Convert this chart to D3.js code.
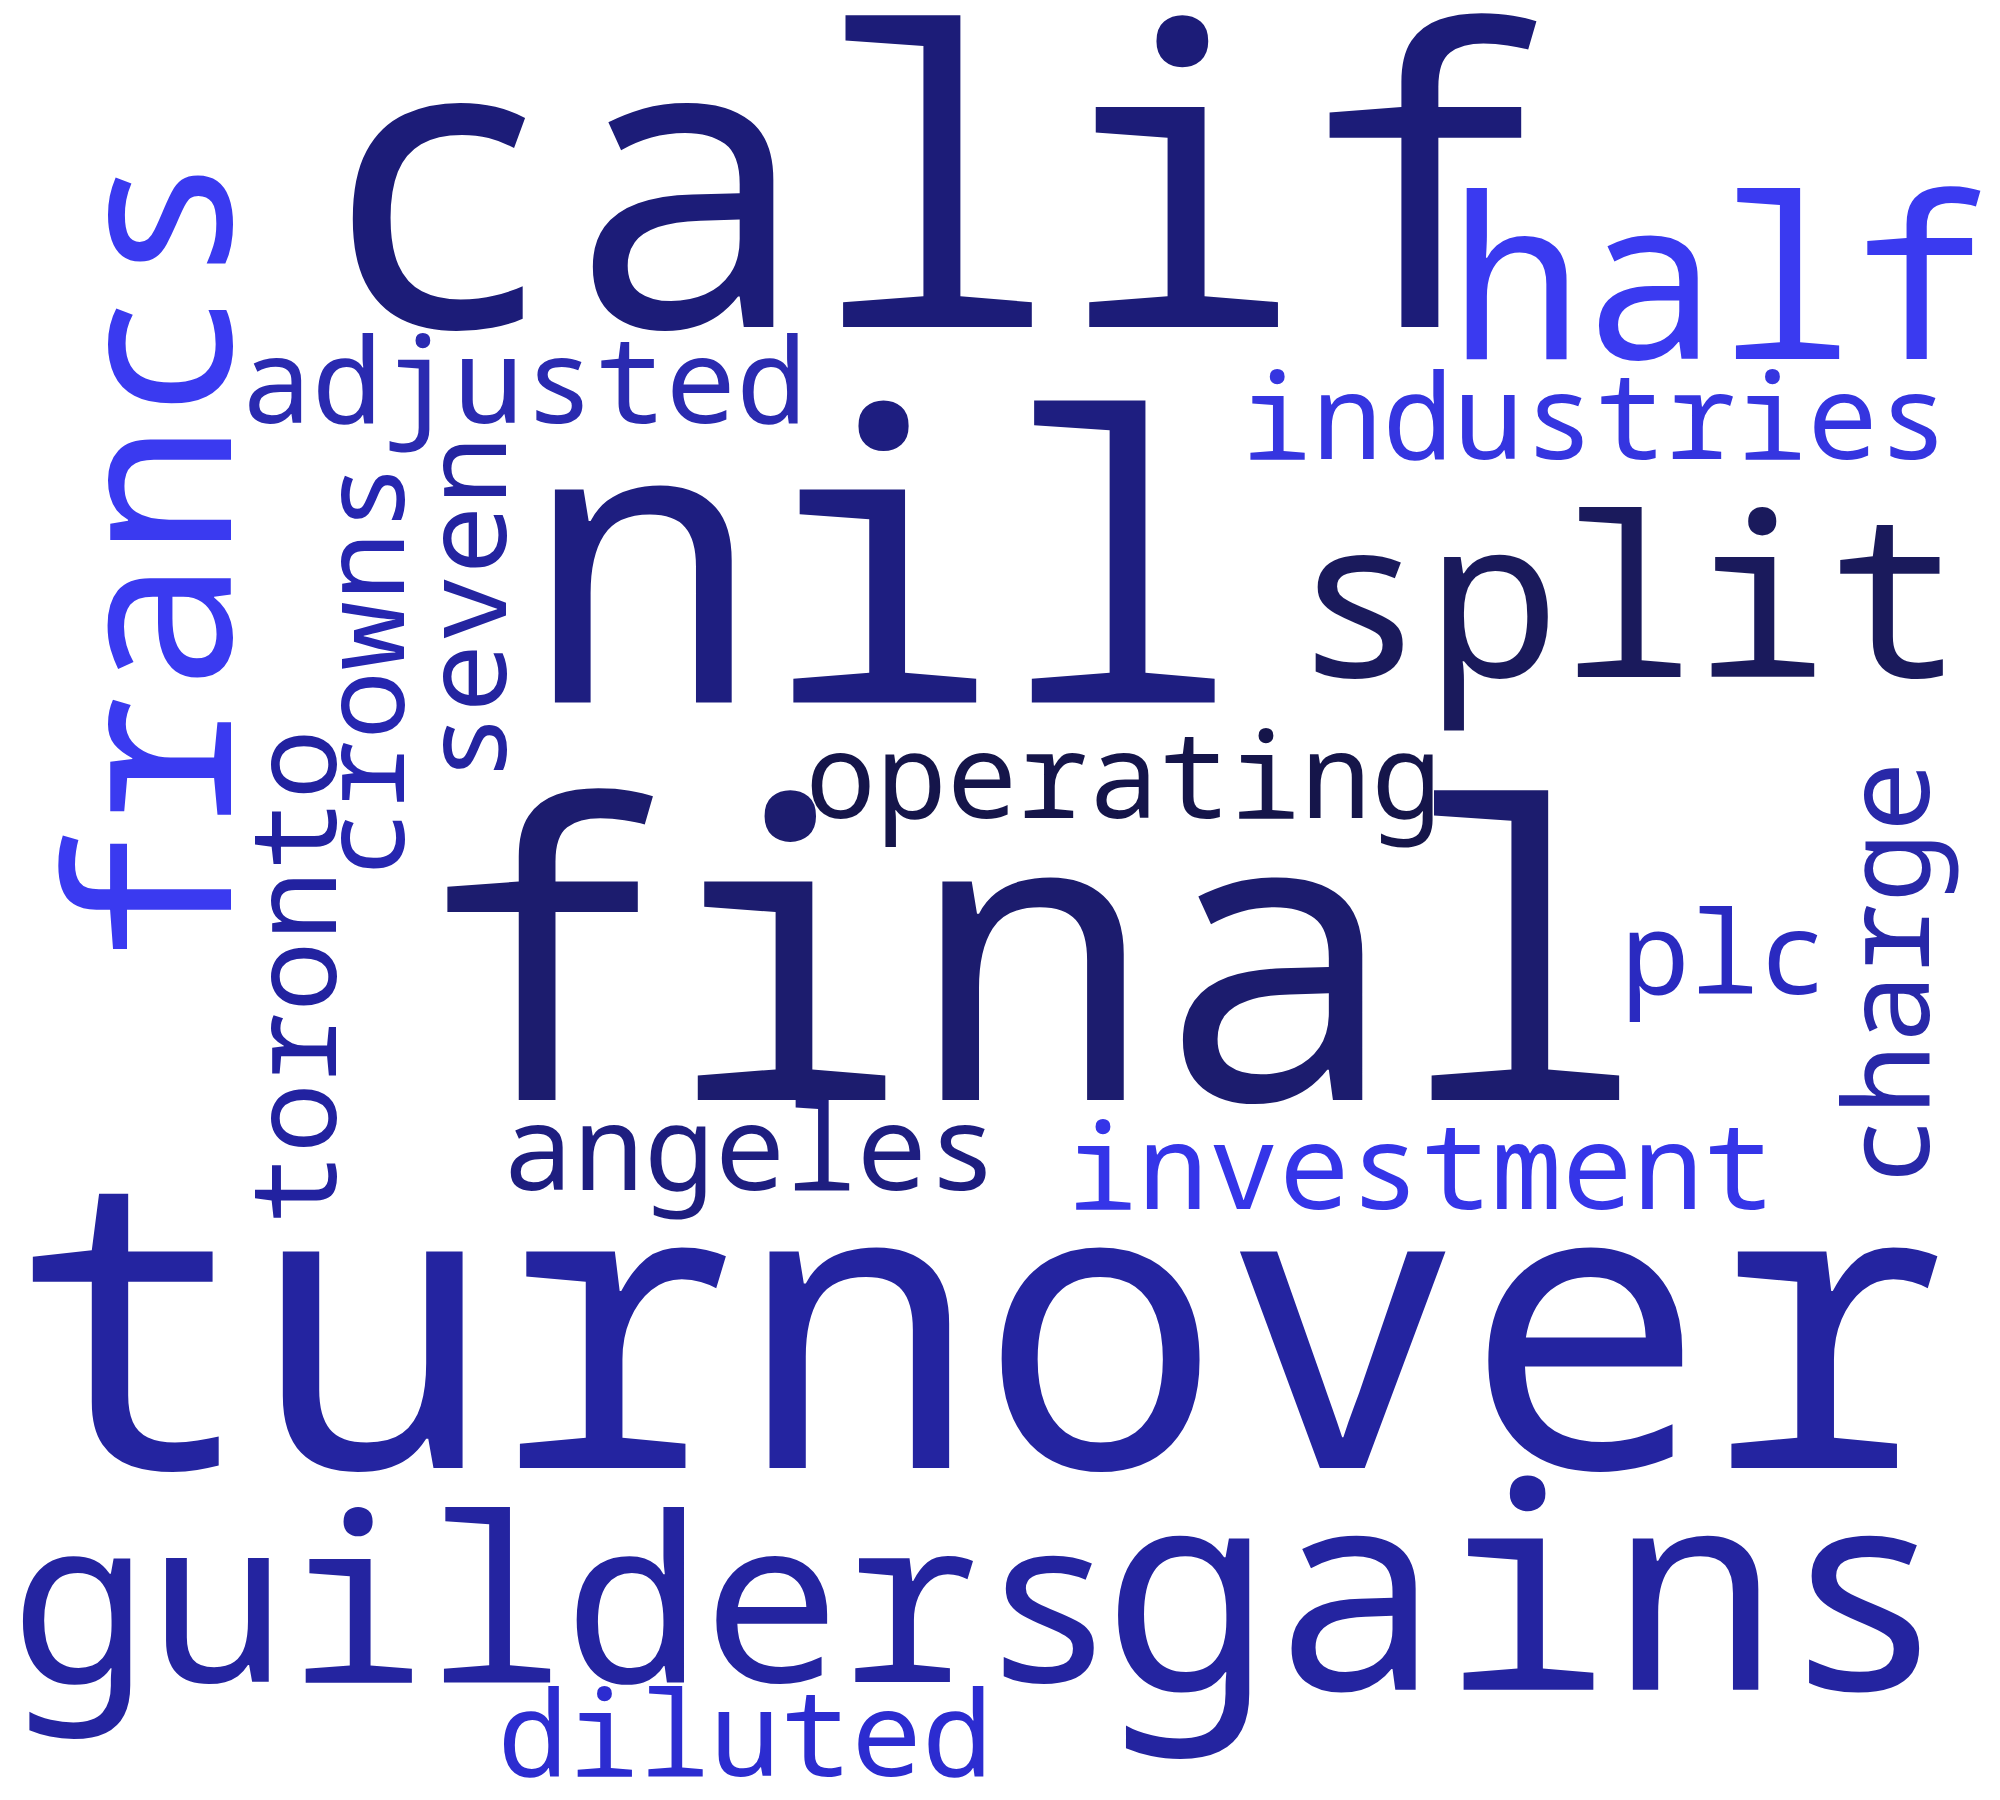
<!DOCTYPE html>
<html><head><meta charset="utf-8">
<script src="https://cdn.jsdelivr.net/npm/d3@7"></script>
<style>body{margin:0;background:#fff}</style></head>
<body><svg id="c" width="2000" height="1800"></svg>
<script>
const words = ["turnover","final","calif","nil","gains","guilders","half","split","francs","industries","adjusted","operating","angeles","investment","diluted","plc","charge","toronto","crowns","seven"];
const sizes = [315,318,320,310,220,180,175,174,176,92,92,92,92,92,92,90,92,92,90,90];
const colors = ["#2424a0","#1c1c6e","#1c1c78","#1e1e80","#2424a0","#2424a0","#3a3af0","#1a1a5c","#3a3af0","#3535e0","#2a2ab0","#15154a","#1e1e80","#3535e8","#2c2cd0","#2a2ac0","#2828a8","#2222a0","#2626b0","#2424a0"];
// layout (reference pixel units): x, y of text anchor start on baseline, rotation
const layoutX = [8,328,248,408,860,8,1130,1008,180,968,188,628,392,832,388,1264,1505,262,315,395];
const layoutY = [1145,858,255,548,1318,1312,280,528,752,358,330,638,928,943,1385,775,925,955,685,610];
const layoutR = [0,0,0,0,0,0,0,0,-90,0,0,0,0,0,0,0,-90,-90,-90,-90];

const s = d3.scaleLinear().domain([0,1560]).range([0,2000]);
const data = words.map((w,i)=>({w,size:sizes[i],c:colors[i],x:layoutX[i],y:layoutY[i],r:layoutR[i]}));
d3.select("#c").selectAll("text").data(data).join("text")
  .attr("transform",d=>`translate(${s(d.x)},${s(d.y)}) rotate(${d.r})`)
  .attr("font-family","'Noto Sans Mono','DejaVu Sans Mono','Liberation Mono',monospace")
  .attr("font-size",d=>s(d.size))
  .attr("fill",d=>d.c)
  .text(d=>d.w);
</script></body></html>
